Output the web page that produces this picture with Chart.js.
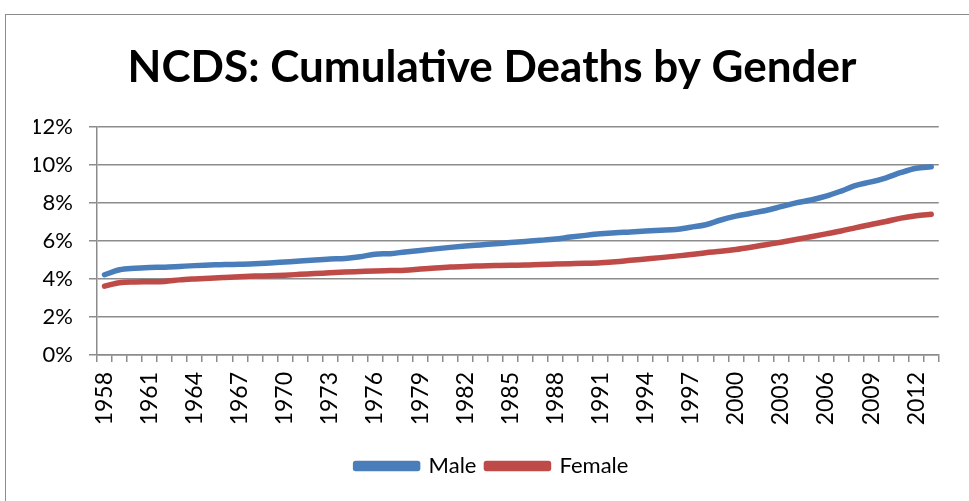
<!DOCTYPE html>
<html>
<head>
<meta charset="utf-8">
<script src="https://cdn.jsdelivr.net/npm/chart.js@4/dist/chart.umd.min.js"></script>
<style>
  html, body { margin: 0; padding: 0; background: #fff; overflow: hidden; }
  #frame { position: absolute; left: 5px; top: 14px; width: 1100px; height: 600px;
           border-left: 1.5px solid #8c8c8c; border-top: 1.5px solid #8c8c8c; }
  #wrap { position: absolute; left: 0; top: 0; width: 969px; height: 501px; }
</style>
</head>
<body>
<div id="frame"></div>
<div id="wrap"><canvas id="c" width="969" height="501"></canvas></div>
<script>
const years = [];
for (let y = 1958; y <= 2013; y++) years.push(String(y));

const maleDeaths = [
  4.22, 4.48, 4.56, 4.60, 4.62, 4.66, 4.70, 4.73, 4.76, 4.77,
  4.80, 4.84, 4.89, 4.94, 5.00, 5.05, 5.08, 5.17, 5.30, 5.33,
  5.42, 5.50, 5.58, 5.66, 5.73, 5.79, 5.85, 5.91, 5.97, 6.03,
  6.10, 6.20, 6.29, 6.37, 6.43, 6.47, 6.52, 6.56, 6.60, 6.72,
  6.85, 7.10, 7.30, 7.45, 7.60, 7.80, 8.00, 8.15, 8.35, 8.62,
  8.92, 9.10, 9.32, 9.60, 9.82, 9.90
];

const femaleDeaths = [
  3.62, 3.80, 3.84, 3.85, 3.87, 3.95, 4.00, 4.04, 4.08, 4.12,
  4.15, 4.17, 4.20, 4.24, 4.28, 4.32, 4.36, 4.39, 4.42, 4.44,
  4.46, 4.52, 4.58, 4.63, 4.66, 4.68, 4.70, 4.72, 4.73, 4.76,
  4.78, 4.80, 4.82, 4.85, 4.90, 4.98, 5.05, 5.12, 5.20, 5.28,
  5.38, 5.45, 5.55, 5.67, 5.80, 5.93, 6.07, 6.22, 6.37, 6.52,
  6.70, 6.86, 7.02, 7.20, 7.32, 7.40
];

const yTicks = [0, 2, 4, 6, 8, 10, 12];
const labelEvery = 3;

const FONT = 'Lato, "Open Sans", "Liberation Sans", sans-serif';
const GRID = '#8c8c8c';

new Chart(document.getElementById('c'), {
  type: 'line',
  data: {
    labels: years,
    datasets: [
      { label: 'Male', data: maleDeaths, borderColor: '#4A7EBB', backgroundColor: '#4A7EBB',
        borderWidth: 5.5, pointRadius: 0, tension: 0.4, cubicInterpolationMode: 'monotone',
        borderCapStyle: 'round', borderJoinStyle: 'round' },
      { label: 'Female', data: femaleDeaths, borderColor: '#BE4B48', backgroundColor: '#BE4B48',
        borderWidth: 5.5, pointRadius: 0, tension: 0.4, cubicInterpolationMode: 'monotone',
        borderCapStyle: 'round', borderJoinStyle: 'round' }
    ]
  },
  options: {
    responsive: false,
    animation: false,
    devicePixelRatio: 1,
    layout: { padding: { left: 34, right: 19, top: 0, bottom: 14 } },
    plugins: {
      title: {
        display: true,
        text: 'NCDS: Cumulative Deaths by Gender',
        color: '#000',
        font: { family: FONT, size: 44, weight: 'bold', lineHeight: 1.2 },
        padding: { top: 41, bottom: 33 }
      },
      legend: {
        position: 'bottom',
        labels: {
          color: '#000',
          font: { family: FONT, size: 22 },
          boxWidth: 62,
          boxHeight: 5,
          padding: 10
        }
      },
      tooltip: { enabled: false }
    },
    scales: {
      x: {
        offset: true,
        grid: { display: true, drawOnChartArea: false, drawTicks: true, tickLength: 7,
                offset: true, color: GRID, lineWidth: 1.5 },
        border: { display: true, color: GRID, width: 1.5 },
        ticks: {
          autoSkip: false,
          maxRotation: 90, minRotation: 90,
          padding: 10,
          color: '#000',
          font: { family: FONT, size: 23 },
          callback: function(val, idx) { return idx % labelEvery === 0 ? years[idx] : ''; }
        },
        afterFit: function(scale) { scale.height = 90; }
      },
      y: {
        min: 0, max: 12,
        afterBuildTicks: function(scale) { scale.ticks = yTicks.map(v => ({ value: v })); },
        grid: { color: GRID, lineWidth: 1.5, tickLength: 8, drawTicks: true },
        border: { display: true, color: GRID, width: 1.5 },
        ticks: {
          padding: 16,
          color: '#000',
          font: { family: FONT, size: 22 },
          callback: function(v) { return v + '%'; }
        },
        afterFit: function(scale) { scale.width = 63; }
      }
    }
  }
});
</script>
</body>
</html>
